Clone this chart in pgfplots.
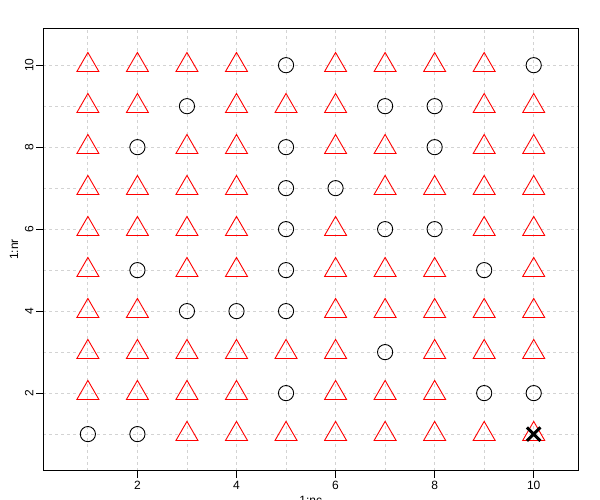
\documentclass[border=0pt]{standalone}
\usepackage{pgfplots}
\pgfplotsset{compat=1.18}
\usepackage{fontspec}
\setmainfont{Liberation Sans}
\definecolor{gridgray}{HTML}{D3D3D3}
\begin{document}
\begin{tikzpicture}
\useasboundingbox (0,0) rectangle (600pt,500pt);
\begin{axis}[
  at={(43.3pt,29pt)}, anchor=south west,
  scale only axis, width=535pt, height=442.7pt,
  xmin=0.1, xmax=10.9, ymin=0.1, ymax=10.9,
  xtick={2,4,6,8,10}, ytick={2,4,6,8,10},
  minor xtick={1,3,5,7,9}, minor ytick={1,3,5,7,9},
  grid=both,
  major grid style={gridgray, dash pattern=on 3pt off 3pt, line width=0.8pt},
  minor grid style={gridgray, dash pattern=on 3pt off 3pt, line width=0.8pt},
  minor tick length=0pt,
  major tick length=7pt,
  tick align=outside,
  xtick pos=lower, ytick pos=left,
  axis line style={black, line width=1pt},
  every tick/.style={black, line width=1pt},
  /pgf/number format/assume math mode=true,
  ticklabel style={font=\fontsize{12}{14}\selectfont, inner sep=0pt},
  xticklabel style={anchor=center, yshift=-7pt},
  yticklabel style={rotate=90, anchor=center, yshift=7pt},
  xlabel={1:nc}, ylabel={1:nr},
  label style={font=\fontsize{12}{14}\selectfont},
  xlabel style={at={(axis description cs:0.5,0)}, anchor=center, yshift=-29pt},
  ylabel style={at={(axis description cs:0,0.5)}, anchor=center, yshift=29.3pt},
  clip=false,
]
\addplot[only marks, mark=triangle, mark size=12.7pt, red, line width=0.9pt] coordinates {
(1,10)(2,10)(3,10)(4,10)(6,10)(7,10)(8,10)(9,10)
(1,9)(2,9)(4,9)(5,9)(6,9)(9,9)(10,9)
(1,8)(3,8)(4,8)(6,8)(7,8)(9,8)(10,8)
(1,7)(2,7)(3,7)(4,7)(7,7)(8,7)(9,7)(10,7)
(1,6)(2,6)(3,6)(4,6)(6,6)(9,6)(10,6)
(1,5)(3,5)(4,5)(6,5)(7,5)(8,5)(10,5)
(1,4)(2,4)(6,4)(7,4)(8,4)(9,4)(10,4)
(1,3)(2,3)(3,3)(4,3)(5,3)(6,3)(8,3)(9,3)(10,3)
(1,2)(2,2)(3,2)(4,2)(6,2)(7,2)(8,2)
(3,1)(4,1)(5,1)(6,1)(7,1)(8,1)(9,1)(10,1)
};
\addplot[only marks, mark=o, mark size=7.6pt, black, line width=0.9pt] coordinates {
(5,10)(10,10)(3,9)(7,9)(8,9)(2,8)(5,8)(8,8)(5,7)(6,7)
(5,6)(7,6)(8,6)(2,5)(5,5)(9,5)(3,4)(4,4)(5,4)(7,3)
(5,2)(9,2)(10,2)(1,1)(2,1)
};
\addplot[only marks, mark=x, mark size=9.5pt, black, line width=3pt] coordinates {(10,1)};
\end{axis}
\end{tikzpicture}
\end{document}
